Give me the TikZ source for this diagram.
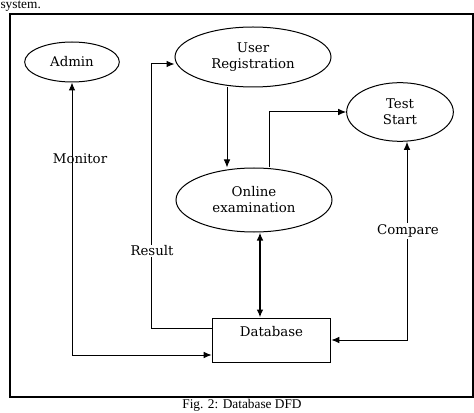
\documentclass[tikz,border=0pt]{standalone}
\usepackage{fontspec}
\usepackage{tikz}
\usepackage{xcolor}
\usetikzlibrary{arrows.meta,shapes.geometric}
\setmainfont{Liberation Serif}
\newfontfamily\dfdfont{DejaVu Serif}

\begin{document}
\begin{tikzpicture}
[x=0.75pt,y=-0.75pt,>={Latex[length=6pt,width=5pt]},line width=0.75pt,
      process/.style={ellipse,draw,inner sep=0pt,align=center,font=\dfdfont},
      store/.style={rectangle,draw,inner xsep=0pt,inner ysep=5pt,
      minimum width=89pt,text height=8.5pt,text depth=14.5pt,font=\dfdfont},
      flowlabel/.style={fill=white,inner sep=1pt,font=\dfdfont}]
 \useasboundingbox (0,0) rectangle (474,413);
 \node[anchor=base west,inner sep=0pt] (intro) at (0,9) {system.};
 \draw[line width=1pt] (10,14) rectangle (473,397);
 \node[process,minimum width=71pt,minimum height=30pt] (admin) at (72,62) {Admin};
 \node[process,minimum width=117pt,minimum height=45pt] (userreg) at (253,57)
  {User\\Registration};
 \node[process,minimum width=80pt,minimum height=44pt] (teststart) at (400,112)
  {Test\\Start};
 \node[process,minimum width=117pt,minimum height=48pt] (online) at (254,200)
  {Online\\examination};
 \node[store] (database) at (271.5,340) {Database};
 \draw[<->] (admin.south) |- (database.west |- 0,355);
 \node[flowlabel,fill=none] (monitor) at (80,159) {Monitor};
 \draw[->] (database.west |- 0,328) -| (151,64) -- (userreg.west |- 0,64);
 \node[flowlabel] (result) at (152,251) {Result};
 \draw[->] (userreg.south -| 227,0) -- (online.north -| 227,0);
 \draw[->] (online.north -| 269,0) |- (teststart.west);
 \draw[<->,line width=1.5pt] (online.south -| 260,0) -- (database.north -| 260,0);
 \draw[<->] (teststart.south -| 407,0) |- (database.east);
 \node[flowlabel] (compare) at (408,231) {Compare};
 \node (caption) at (242,405) {Fig. 2: Database DFD};
\end{tikzpicture}
\end{document}
